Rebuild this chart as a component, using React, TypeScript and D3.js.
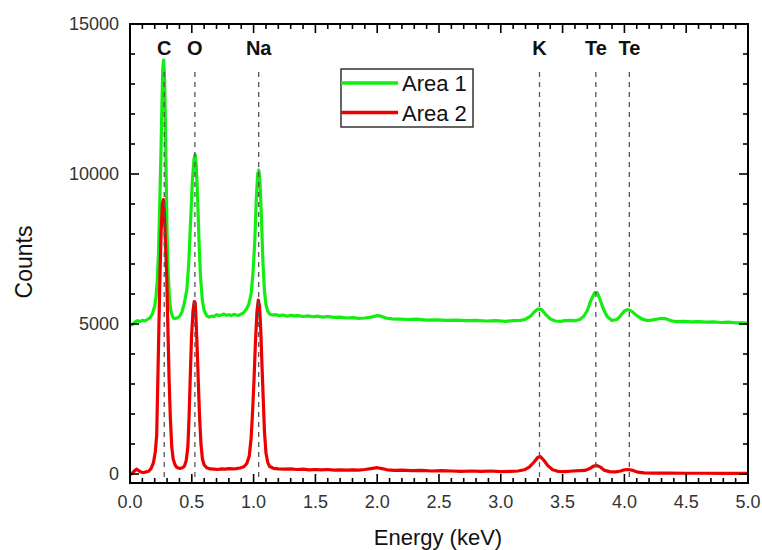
import React from "react";
import * as d3 from "d3";

const W = 762;
const H = 550;
const M = { left: 130, right: 14, top: 24, bottom: 67 };

const xTicks = [0, 0.5, 1.0, 1.5, 2.0, 2.5, 3.0, 3.5, 4.0, 4.5, 5.0];
const yTicks = [0, 5000, 10000, 15000];

const seriesNames = ["Area 1", "Area 2"];
const seriesColors = ["#12ee12", "#ee0000"];

const elementLabels = ["C", "O", "Na", "K", "Te", "Te"];
const elementEnergies = [0.277, 0.525, 1.041, 3.313, 3.769, 4.04];

const area1: [number, number][] = [
  [0.00,4950],[0.02,4980],[0.04,5060],[0.06,5110],[0.08,5080],[0.10,5120],[0.12,5100],[0.14,5150],[0.16,5200],[0.18,5320],
  [0.20,5600],[0.21,5900],[0.22,6400],[0.23,7300],[0.24,8900],[0.25,10600],[0.258,12200],[0.265,13500],[0.272,13800],[0.279,13300],
  [0.286,11800],[0.293,9800],[0.30,8000],[0.31,6600],[0.32,5800],[0.33,5450],[0.34,5300],[0.35,5200],[0.36,5180],[0.38,5200],
  [0.40,5250],[0.42,5400],[0.44,5700],[0.46,6150],[0.475,7000],[0.49,8400],[0.505,9800],[0.518,10500],[0.527,10650],[0.536,10300],
  [0.547,9200],[0.558,7800],[0.57,6600],[0.585,5800],[0.60,5450],[0.62,5280],[0.64,5230],[0.66,5260],[0.68,5250],[0.70,5310],
  [0.72,5280],[0.74,5300],[0.76,5330],[0.78,5290],[0.80,5310],[0.82,5280],[0.84,5320],[0.86,5300],[0.88,5290],[0.90,5330],
  [0.92,5380],[0.94,5480],[0.96,5650],[0.98,6000],[0.995,6700],[1.01,7800],[1.022,9200],[1.033,10000],[1.042,10130],[1.052,9700],
  [1.063,8600],[1.075,7100],[1.088,6100],[1.10,5650],[1.115,5420],[1.13,5330],[1.15,5300],[1.18,5310],[1.21,5280],[1.24,5300],
  [1.27,5260],[1.30,5290],[1.33,5270],[1.36,5280],[1.40,5250],[1.44,5270],[1.48,5240],[1.52,5260],[1.56,5230],[1.60,5250],
  [1.65,5220],[1.70,5230],[1.75,5200],[1.80,5210],[1.85,5190],[1.90,5200],[1.95,5230],[2.00,5280],[2.03,5260],[2.07,5200],
  [2.12,5170],[2.18,5160],[2.25,5150],[2.32,5160],[2.40,5130],[2.48,5140],[2.56,5120],[2.64,5130],[2.72,5110],[2.80,5120],
  [2.88,5100],[2.96,5110],[3.04,5090],[3.10,5110],[3.16,5120],[3.20,5160],[3.24,5260],[3.27,5400],[3.30,5500],[3.33,5480],
  [3.36,5330],[3.40,5170],[3.44,5100],[3.48,5090],[3.52,5110],[3.56,5120],[3.60,5110],[3.64,5150],[3.67,5250],[3.70,5450],
  [3.73,5800],[3.76,6050],[3.78,6050],[3.80,5850],[3.83,5500],[3.86,5250],[3.90,5120],[3.94,5150],[3.97,5280],[4.00,5430],
  [4.03,5480],[4.06,5420],[4.10,5280],[4.14,5170],[4.18,5120],[4.22,5130],[4.26,5160],[4.30,5190],[4.34,5170],[4.38,5110],
  [4.42,5080],[4.48,5090],[4.54,5070],[4.60,5080],[4.66,5060],[4.72,5070],[4.78,5050],[4.84,5060],[4.90,5040],[4.96,5040],
  [5.00,5030],
];

const area2: [number, number][] = [
  [0.00,-20],[0.02,30],[0.04,120],[0.055,160],[0.07,110],[0.09,60],[0.11,50],[0.13,70],[0.15,90],[0.17,180],
  [0.19,380],[0.205,750],[0.216,1300],[0.227,3500],[0.24,6200],[0.252,8100],[0.262,9000],[0.27,9150],[0.278,8700],[0.287,7700],
  [0.297,6600],[0.307,4800],[0.316,3200],[0.326,1900],[0.338,900],[0.35,480],[0.365,300],[0.38,220],[0.40,190],[0.42,200],
  [0.44,260],[0.455,450],[0.468,900],[0.478,1900],[0.488,3300],[0.498,4600],[0.51,5450],[0.52,5750],[0.528,5700],[0.536,5000],
  [0.545,4000],[0.554,2900],[0.563,1900],[0.574,1000],[0.586,500],[0.60,300],[0.62,210],[0.65,170],[0.68,160],[0.71,150],
  [0.74,170],[0.77,160],[0.80,180],[0.83,170],[0.86,180],[0.89,200],[0.92,240],[0.945,350],[0.965,600],[0.98,1200],
  [0.992,2100],[1.003,3100],[1.015,4400],[1.027,5400],[1.038,5800],[1.048,5600],[1.058,4800],[1.068,3600],[1.078,2500],[1.088,1400],
  [1.10,700],[1.115,380],[1.13,250],[1.16,190],[1.20,170],[1.25,160],[1.30,170],[1.35,150],[1.40,160],[1.45,140],
  [1.50,150],[1.55,140],[1.60,150],[1.65,130],[1.70,140],[1.75,130],[1.80,140],[1.85,130],[1.90,150],[1.95,180],
  [2.00,210],[2.04,180],[2.08,140],[2.14,120],[2.20,130],[2.28,110],[2.36,120],[2.44,100],[2.52,110],[2.60,100],
  [2.68,90],[2.76,100],[2.84,90],[2.92,100],[3.00,80],[3.08,90],[3.14,100],[3.19,140],[3.23,230],[3.27,400],
  [3.30,560],[3.32,580],[3.35,450],[3.38,280],[3.42,140],[3.46,90],[3.52,80],[3.58,100],[3.64,110],[3.68,120],
  [3.72,180],[3.75,260],[3.78,280],[3.81,220],[3.84,120],[3.88,80],[3.93,70],[3.97,100],[4.00,140],[4.03,150],
  [4.07,120],[4.11,60],[4.16,40],[4.24,30],[4.35,30],[4.50,25],[4.65,25],[4.80,20],[5.00,20],
];

const allSeries = [area1, area2];

export default function App() {
  const x = d3.scaleLinear().domain([0, 5]).range([M.left, W - M.right]);
  const y = d3.scaleLinear().domain([-300, 15000]).range([H - M.bottom, M.top]);
  const x0 = x.range()[0], x1 = x.range()[1];
  const y0 = y.range()[0], y1 = y.range()[1];

  const line = d3
    .line<[number, number]>()
    .x((d) => x(d[0]))
    .y((d) => y(d[1]));

  const xMinor = d3.range(0, 51).map((i) => i / 10).filter((v) => Math.abs(v * 2 - Math.round(v * 2)) > 1e-6);
  const yMinor = d3.range(0, 16).map((i) => i * 1000).filter((v) => v % 5000 !== 0);

  const font = "Arial, 'Liberation Sans', sans-serif";
  const tickW = 1.6;
  const major = 9;
  const minor = 5;

  return (
    <svg
      width={W}
      height={H}
      style={{ position: "absolute", left: 0, top: 0, background: "#fff" }}
      fontFamily={font}
    >
      <rect x={0} y={0} width={W} height={H} fill="#fff" />
      {allSeries.map((s, i) => (
        <path
          key={i}
          d={line(s) || ""}
          fill="none"
          stroke={seriesColors[i]}
          strokeWidth={3.2}
          strokeLinejoin="round"
        />
      ))}
      {elementEnergies.map((e, i) => (
        <g key={i}>
          <line
            x1={x(e)}
            x2={x(e)}
            y1={72}
            y2={y0}
            stroke="#555"
            strokeWidth={1.3}
            strokeDasharray="5,5"
          />
          <text
            x={x(e)}
            y={55}
            textAnchor="middle"
            fontSize={20}
            fontWeight="bold"
            fill="#111"
          >
            {elementLabels[i]}
          </text>
        </g>
      ))}
      {xTicks.map((t) => (
        <g key={"xt" + t}>
          <line x1={x(t)} x2={x(t)} y1={y0} y2={y0 - major} stroke="#000" strokeWidth={tickW} />
          <line x1={x(t)} x2={x(t)} y1={y1} y2={y1 + major} stroke="#000" strokeWidth={tickW} />
          <text x={x(t)} y={508} textAnchor="middle" fontSize={18} fill="#333">
            {t.toFixed(1)}
          </text>
        </g>
      ))}
      {xMinor.map((t) => (
        <g key={"xm" + t}>
          <line x1={x(t)} x2={x(t)} y1={y0} y2={y0 - minor} stroke="#000" strokeWidth={tickW} />
          <line x1={x(t)} x2={x(t)} y1={y1} y2={y1 + minor} stroke="#000" strokeWidth={tickW} />
        </g>
      ))}
      {yTicks.map((t) => (
        <g key={"yt" + t}>
          <line x1={x0} x2={x0 + major} y1={y(t)} y2={y(t)} stroke="#000" strokeWidth={tickW} />
          <line x1={x1} x2={x1 - major} y1={y(t)} y2={y(t)} stroke="#000" strokeWidth={tickW} />
          <text x={119} y={y(t)} dy="0.36em" textAnchor="end" fontSize={18} fill="#333">
            {t}
          </text>
        </g>
      ))}
      {yMinor.map((t) => (
        <g key={"ym" + t}>
          <line x1={x0} x2={x0 + minor} y1={y(t)} y2={y(t)} stroke="#000" strokeWidth={tickW} />
          <line x1={x1} x2={x1 - minor} y1={y(t)} y2={y(t)} stroke="#000" strokeWidth={tickW} />
        </g>
      ))}
      <rect x={x0} y={y1} width={x1 - x0} height={y0 - y1} fill="none" stroke="#000" strokeWidth={2} />
      <g>
        <rect x={341} y={69} width={132} height={58} fill="#fff" stroke="#333" strokeWidth={1.5} />
        {seriesNames.map((n, i) => (
          <g key={n}>
            <line x1={341} x2={398} y1={83 + i * 29.5} y2={83 + i * 29.5} stroke={seriesColors[i]} strokeWidth={3.5} />
            <text x={402} y={91 + i * 29.5} fontSize={22} fill="#111">
              {n}
            </text>
          </g>
        ))}
      </g>
      <text x={438} y={545} textAnchor="middle" fontSize={22} fill="#111">
        Energy (keV)
      </text>
      <text transform="translate(32,262) rotate(-90)" textAnchor="middle" fontSize={23} fill="#111">
        Counts
      </text>
    </svg>
  );
}
